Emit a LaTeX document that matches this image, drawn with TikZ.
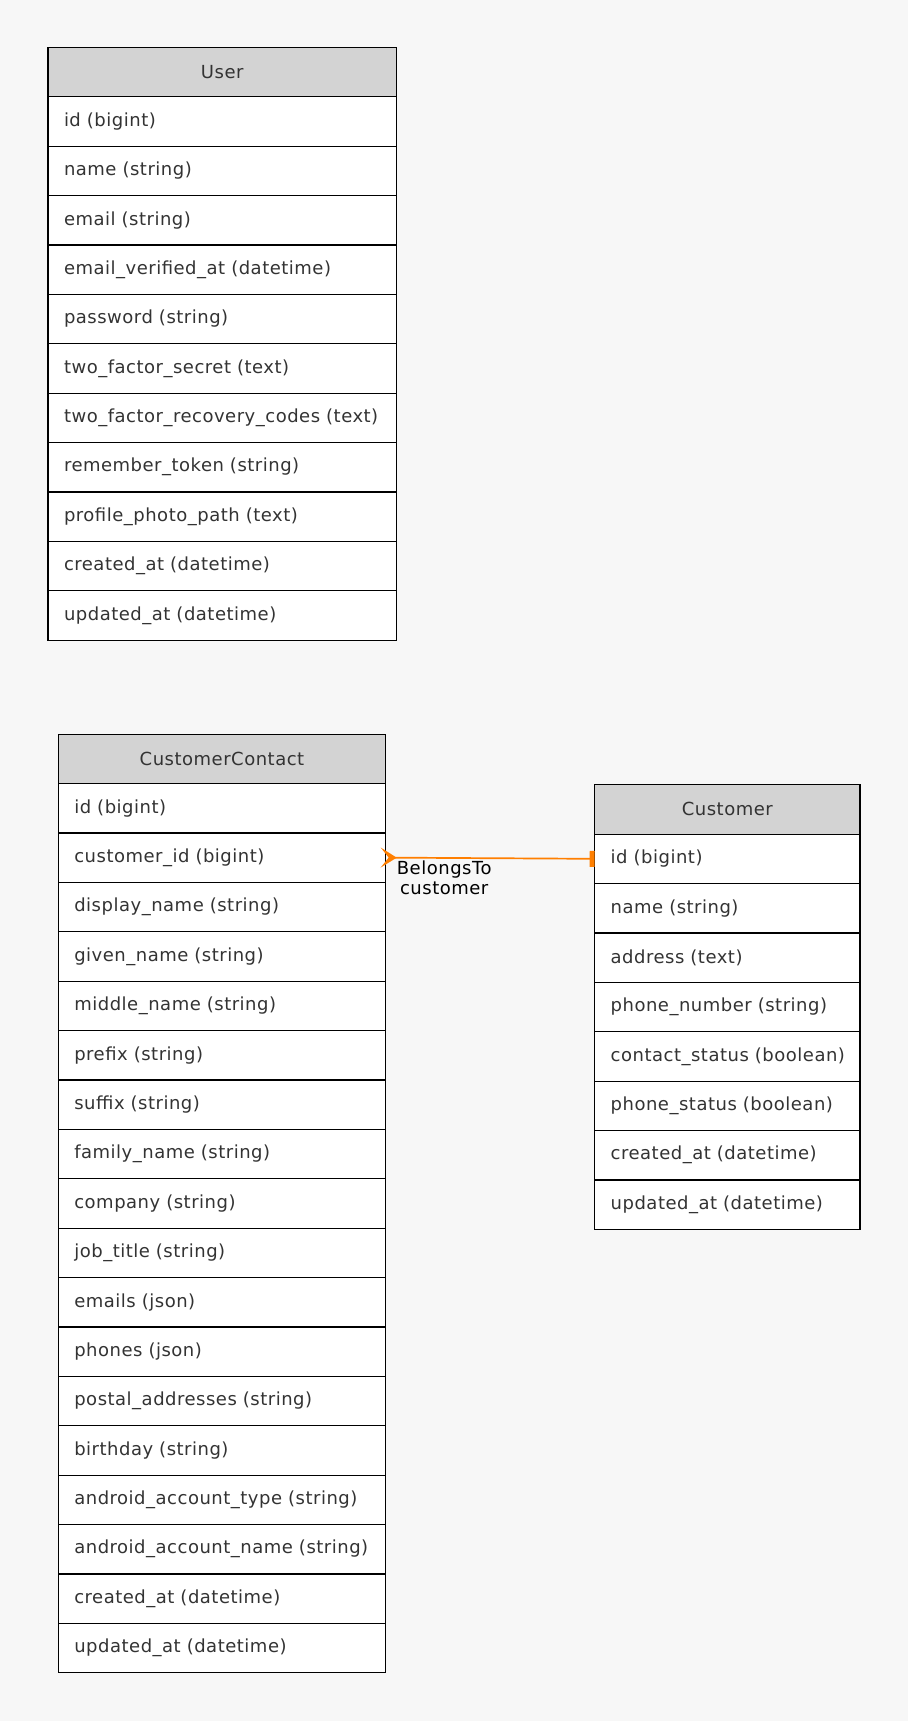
\documentclass[tikz,border=0pt]{standalone}
\usepackage{fontspec}
\setmainfont{DejaVu Sans}[LetterSpace=2.8]
\usetikzlibrary{arrows.meta}
\definecolor{bgcol}{HTML}{F7F7F7}
\definecolor{headcol}{HTML}{D3D3D3}
\definecolor{txtcol}{HTML}{333333}
\definecolor{linkcol}{HTML}{FF7F00}
\begin{document}
\begin{tikzpicture}[x=1pt,y=-1pt,
  field/.style={draw=black, line width=1.2pt, fill=white, text=txtcol, anchor=north west, outer sep=0pt,
    minimum height=49.4pt, inner ysep=0pt, inner xsep=16pt, text width=#1, align=left,
    font=\fontsize{18}{21}\selectfont},
  header/.style={field=#1, fill=headcol, align=center},
  link/.style={draw=linkcol, line width=1.7pt, shorten <=-5pt,
    {Stealth[reversed,length=16pt,width=20pt,inset=8pt]}-{Rectangle[length=5pt,width=16pt]}},
  linklabel/.style={text=black, align=center, inner sep=2pt, font=\fontsize{18}{20}\selectfont}]
  \fill[bgcol] (0,0) rectangle (908,1721);
  \node[header=316.5pt] (user-0) at (48,47.3) {User};
  \foreach \f [count=\i] in {id (bigint), name (string), email (string), email\_verified\_at (datetime),
    password (string), two\_factor\_secret (text), two\_factor\_recovery\_codes (text), remember\_token (string),
    profile\_photo\_path (text), created\_at (datetime), updated\_at (datetime)} {
    \node[field=316.5pt] (user-\i) at (48,47.3+49.4*\i) {\mbox{\f}};
  }
  \node[header=295.4pt] (cc-0) at (58.3,734.1) {CustomerContact};
  \foreach \f [count=\i] in {id (bigint), customer\_id (bigint), display\_name (string), given\_name (string),
    middle\_name (string), prefix (string), suffix (string), family\_name (string), company (string),
    job\_title (string), emails (json), phones (json), postal\_addresses (string), birthday (string),
    android\_account\_type (string), android\_account\_name (string), created\_at (datetime), updated\_at (datetime)} {
    \node[field=295.4pt] (cc-\i) at (58.3,734.1+49.4*\i) {\mbox{\f}};
  }
  \node[header=233.3pt] (cust-0) at (594.7,784.7) {Customer};
  \foreach \f [count=\i] in {id (bigint), name (string), address (text), phone\_number (string),
    contact\_status (boolean), phone\_status (boolean), created\_at (datetime), updated\_at (datetime)} {
    \node[field=233.3pt] (cust-\i) at (594.7,784.7+49.4*\i) {\mbox{\f}};
  }
  \draw[link] (cc-2.east) -- node[linklabel, pos=0.28, below] {BelongsTo\\customer} (cust-1.west);
\end{tikzpicture}
\end{document}
